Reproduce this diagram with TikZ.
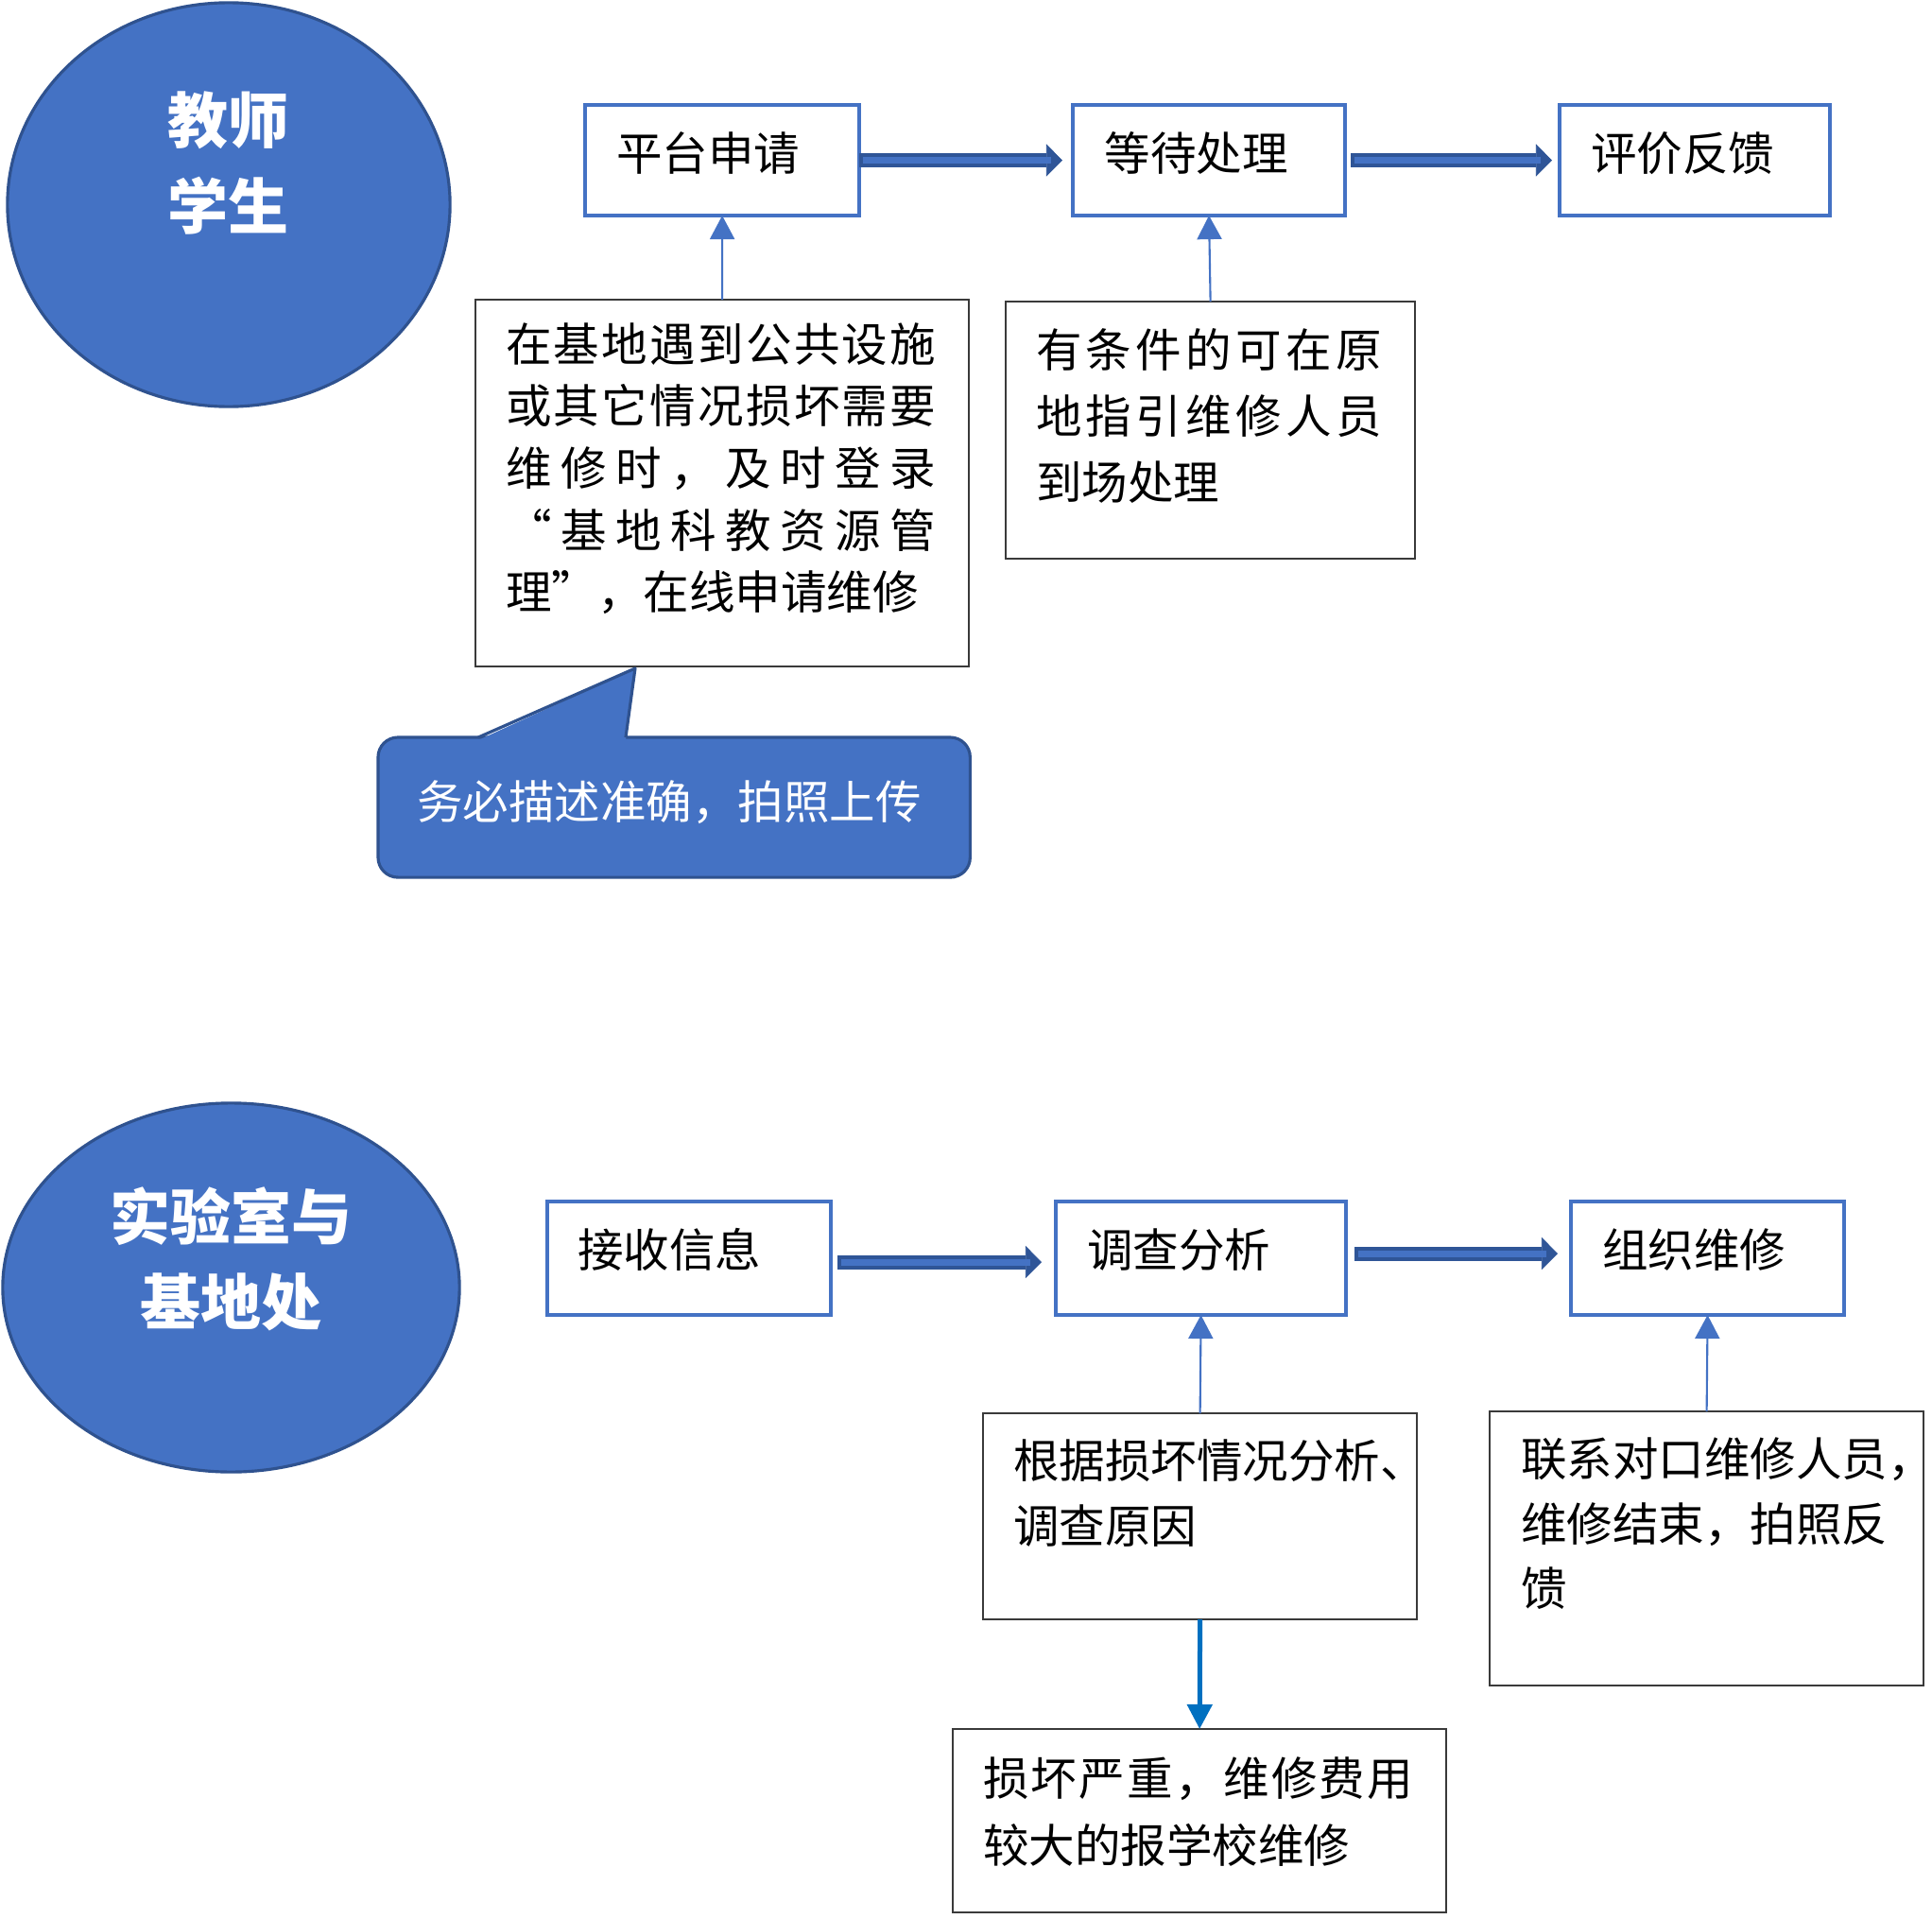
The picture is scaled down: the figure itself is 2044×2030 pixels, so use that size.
\documentclass[tikz,border=0pt]{standalone}
\usepackage{fontspec}
\newfontfamily\cjk{Noto Sans CJK SC}
\usetikzlibrary{arrows.meta,shapes.geometric}
\definecolor{accent}{HTML}{4472C4}
\definecolor{accentdark}{HTML}{2F528F}
\definecolor{shaftdark}{HTML}{2F5597}
\definecolor{downblue}{HTML}{0070C0}
\definecolor{boxline}{HTML}{3A3A3A}
\hfuzz=60pt
\makeatletter
\def\jst#1#2{\leavevmode\hbox to #1{\jst@a#2\jst@end}}
\def\jst@a#1{#1\jst@b}
\def\jst@b#1{\ifx#1\jst@end\else\hfill#1\expandafter\jst@b\fi}
\def\jst@end{\jst@end}
\makeatother
% width, height, left pad, top pad, baselineskip, text
\newcommand\tbx[6]{\parbox[c][#2][t]{#1}{\raggedright\leftskip=#3\relax\baselineskip=#5\relax\lineskiplimit=-50pt\relax\vspace*{#4}\rule{0pt}{0.88em}#6}}
% width, height, top pad, baselineskip, text (centred)
\newcommand\tbxc[5]{\parbox[c][#2][t]{#1}{\centering\baselineskip=#4\relax\lineskiplimit=-50pt\relax\vspace*{#3}\rule{0pt}{0.88em}#5}}
\begin{document}
\begin{tikzpicture}[x=0.01cm, y=-0.01cm,
  font=\cjk\fontsize{13.8pt}{16pt}\selectfont,
  bluebox/.style={draw=accent, line width=1.1pt, fill=white, inner sep=0pt, outer sep=0pt, anchor=north west},
  plainbox/.style={draw=boxline, line width=0.6pt, fill=white, inner sep=0pt, outer sep=0pt, anchor=north west},
  role/.style={ellipse, draw=accentdark, line width=0.9pt, fill=accent, text=white, inner sep=0pt,
    font=\cjk\bfseries\fontsize{18.2pt}{22pt}\selectfont},
  shaft/.style={draw=shaftdark, line width=0.15cm, -{Triangle[length=0.17cm,width=0.34cm,line width=0.2pt]}},
  shaftin/.style={draw=accent, line width=0.07cm},
  uplink/.style={draw=accent, line width=0.6pt, -{Triangle[length=0.25cm,width=0.26cm]}},
  downlink/.style={draw=downblue, line width=0.05cm, -{Triangle[length=0.26cm,width=0.26cm]}},
  callout/.style={draw=accentdark, line width=0.9pt, fill=accent, rounded corners=0.21cm, text=white, inner sep=0pt, outer sep=0pt, anchor=north west}]

\path[fill=white] (0,0) rectangle (2044,2030);
\useasboundingbox (0,0) rectangle (2044,2030);

% ---- roles ----
\node[role, minimum width=4.68cm, minimum height=4.27cm] (e1) at (242,216.5)
  {\tbxc{3cm}{2.6cm}{0.085cm}{0.91cm}{教师\\学生}};
\node[role, minimum width=4.83cm, minimum height=3.90cm] (e2) at (244.5,1362)
  {\tbxc{3cm}{2.6cm}{0.23cm}{0.90cm}{实验室与\\基地处}};

% ---- top row ----
\node[bluebox] (b1) at (619,111) {\tbx{2.90cm}{1.17cm}{0.33cm}{0.263cm}{0.7cm}{平台申请}};
\node[bluebox] (b2) at (1135,111) {\tbx{2.88cm}{1.17cm}{0.335cm}{0.263cm}{0.7cm}{等待处理}};
\node[bluebox] (b3) at (1650,111) {\tbx{2.86cm}{1.17cm}{0.33cm}{0.263cm}{0.7cm}{评价反馈}};

\node[plainbox] (t1) at (503,317) {\tbx{5.22cm}{3.88cm}{0.32cm}{0.227cm}{0.655cm}{\jst{4.55cm}{在基地遇到公共设施}\\\jst{4.55cm}{或其它情况损坏需要}\\\jst{4.55cm}{维修时，及时登录}\\\jst{4.55cm}{“基地科教资源管}\\理”，在线申请维修}};
\node[plainbox] (t2) at (1064,319) {\tbx{4.33cm}{2.72cm}{0.32cm}{0.267cm}{0.70cm}{\jst{3.66cm}{有条件的可在原}\\\jst{3.66cm}{地指引维修人员}\\到场处理}};

% ---- callout ----
\node[callout, minimum width=6.26cm, minimum height=1.48cm] (call) at (400,780)
  {\tbx{6.26cm}{1.48cm}{0.41cm}{0.437cm}{0.7cm}{\jst{5.26cm}{务必描述准确，拍照上传}}};
\fill[accent] (506,783) -- (672,707) -- (662,783) -- cycle;
\draw[accentdark, line width=0.9pt, line join=round] (506,780) -- (672,707) -- (662,780);

% ---- bottom row ----
\node[bluebox] (c1) at (579,1271) {\tbx{3.00cm}{1.20cm}{0.32cm}{0.267cm}{0.7cm}{接收信息}};
\node[bluebox] (c2) at (1117,1271) {\tbx{3.07cm}{1.20cm}{0.33cm}{0.267cm}{0.7cm}{调查分析}};
\node[bluebox] (c3) at (1662,1271) {\tbx{2.89cm}{1.20cm}{0.33cm}{0.267cm}{0.7cm}{组织维修}};

\node[plainbox] (d1) at (1040,1495) {\tbx{4.59cm}{2.18cm}{0.32cm}{0.257cm}{0.69cm}{根据损坏情况分析、\\调查原因}};
\node[plainbox] (d2) at (1576,1493) {\tbx{4.59cm}{2.90cm}{0.33cm}{0.258cm}{0.685cm}{联系对口维修人员，\\维修结束，拍照反\\馈}};
\node[plainbox] (e) at (1008,1829) {\tbx{5.22cm}{1.94cm}{0.32cm}{0.277cm}{0.71cm}{\jst{4.55cm}{损坏严重，维修费用}\\较大的报学校维修}};

% ---- block arrows ----
\draw[shaft, shorten >=0.11cm] (b1.east) -- (b2.west);
\draw[shaftin, shorten <=0.04cm, shorten >=0.23cm] (b1.east) -- (b2.west);
\draw[shaft, shorten <=0.06cm, shorten >=0.08cm] (b2.east) -- (b3.west);
\draw[shaftin, shorten <=0.10cm, shorten >=0.20cm] (b2.east) -- (b3.west);
\draw[shaft, shorten <=0.07cm, shorten >=0.15cm] ([yshift=-0.04cm]c1.east) -- ([yshift=-0.04cm]c2.west);
\draw[shaftin, shorten <=0.11cm, shorten >=0.27cm] ([yshift=-0.04cm]c1.east) -- ([yshift=-0.04cm]c2.west);
\draw[shaft, shorten <=0.09cm, shorten >=0.14cm] ([yshift=0.05cm]c2.east) -- ([yshift=0.05cm]c3.west);
\draw[shaftin, shorten <=0.13cm, shorten >=0.26cm] ([yshift=0.05cm]c2.east) -- ([yshift=0.05cm]c3.west);

% ---- thin connectors ----
\draw[uplink] (t1.north) -- (b1.south);
\draw[uplink] (t2.north) -- (b2.south);
\draw[uplink] (d1.north) -- (c2.south);
\draw[uplink] (d2.north) -- (c3.south);
\draw[downlink] (d1.south) -- (e.north);
\end{tikzpicture}
\end{document}
